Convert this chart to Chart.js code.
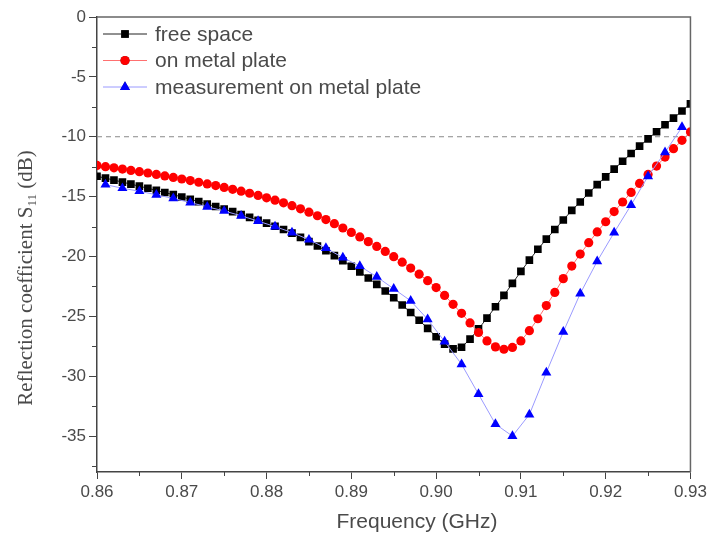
<!DOCTYPE html>
<html>
<head>
<meta charset="utf-8">
<script src="https://cdn.jsdelivr.net/npm/chart.js@4.4.1/dist/chart.umd.min.js"></script>
<style>
  html, body { margin: 0; padding: 0; background: #fff; }
  #wrap { width: 710px; height: 545px; }
</style>
</head>
<body>
<div id="wrap"><canvas id="chart" width="710" height="545"></canvas></div>
<script>
/* ---- Daten ---- */
const FREQ_DENSE = [
  0.860, 0.861, 0.862, 0.863, 0.864, 0.865, 0.866, 0.867, 0.868, 0.869,
  0.870, 0.871, 0.872, 0.873, 0.874, 0.875, 0.876, 0.877, 0.878, 0.879,
  0.880, 0.881, 0.882, 0.883, 0.884, 0.885, 0.886, 0.887, 0.888, 0.889,
  0.890, 0.891, 0.892, 0.893, 0.894, 0.895, 0.896, 0.897, 0.898, 0.899,
  0.900, 0.901, 0.902, 0.903, 0.904, 0.905, 0.906, 0.907, 0.908, 0.909,
  0.910, 0.911, 0.912, 0.913, 0.914, 0.915, 0.916, 0.917, 0.918, 0.919,
  0.920, 0.921, 0.922, 0.923, 0.924, 0.925, 0.926, 0.927, 0.928, 0.929,
  0.930
];
const FREE_SPACE = [
  -13.30, -13.46, -13.62, -13.79, -13.96, -14.13, -14.30, -14.48, -14.66, -14.84,
  -15.03, -15.22, -15.42, -15.62, -15.83, -16.04, -16.26, -16.49, -16.73, -16.97,
  -17.22, -17.48, -17.75, -18.05, -18.40, -18.76, -19.13, -19.52, -19.93, -20.36,
  -20.82, -21.30, -21.80, -22.33, -22.88, -23.45, -24.05, -24.68, -25.33, -26.00,
  -26.70, -27.32, -27.72, -27.58, -26.90, -26.05, -25.15, -24.20, -23.25, -22.25,
  -21.25, -20.30, -19.40, -18.55, -17.75, -16.95, -16.15, -15.45, -14.70, -14.00,
  -13.35, -12.70, -12.05, -11.40, -10.78, -10.18, -9.58, -9.00, -8.45, -7.85,
  -7.25
];
const ON_METAL = [
  -12.40, -12.50, -12.60, -12.70, -12.81, -12.92, -13.03, -13.15, -13.27, -13.40,
  -13.53, -13.66, -13.80, -13.94, -14.08, -14.23, -14.39, -14.55, -14.72, -14.90,
  -15.10, -15.30, -15.52, -15.76, -16.02, -16.30, -16.60, -16.92, -17.26, -17.62,
  -17.99, -18.37, -18.76, -19.16, -19.58, -20.02, -20.48, -20.97, -21.48, -22.02,
  -22.60, -23.25, -24.00, -24.75, -25.55, -26.35, -27.05, -27.55, -27.75, -27.60,
  -27.05, -26.20, -25.20, -24.10, -23.00, -21.85, -20.80, -19.80, -18.85, -17.95,
  -17.10, -16.25, -15.45, -14.65, -13.90, -13.15, -12.45, -11.70, -11.00, -10.30,
  -9.60
];
const FREQ_MEAS = [
  0.861, 0.863, 0.865, 0.867, 0.869, 0.871, 0.873, 0.875, 0.877, 0.879,
  0.881, 0.883, 0.885, 0.887, 0.889, 0.891, 0.893, 0.895, 0.897, 0.899,
  0.901, 0.903, 0.905, 0.907, 0.909, 0.911, 0.913, 0.915, 0.917, 0.919,
  0.921, 0.923, 0.925, 0.927, 0.929
];
const MEASURED = [
  -14.00, -14.30, -14.55, -14.85, -15.15, -15.50, -15.85, -16.20, -16.60, -17.05,
  -17.50, -18.00, -18.60, -19.30, -20.10, -20.80, -21.70, -22.70, -23.70, -25.25,
  -27.10, -29.00, -31.50, -34.00, -35.00, -33.20, -29.70, -26.30, -23.10, -20.40,
  -18.00, -15.70, -13.30, -11.30, -9.20
];
const LABELS = ['free space', 'on metal plate', 'measurement on metal plate'];
const X_TICKS = [0.86, 0.87, 0.88, 0.89, 0.90, 0.91, 0.92, 0.93];
const X_MINOR = [0.865, 0.875, 0.885, 0.895, 0.905, 0.915, 0.925];
const Y_TICKS = [0, -5, -10, -15, -20, -25, -30, -35];
const Y_MINOR = [-2.5, -7.5, -12.5, -17.5, -22.5, -27.5, -32.5, -37.5];
const THRESHOLD = -10;

const toXY = (xs, ys) => xs.map((x, i) => ({ x: x, y: ys[i] }));

const AXIS = '#444';
const TEXT = '#4a4a4a';

/* ---- Rahmen, Nebenstriche, -10 dB Linie, Achsentitel, Legende ---- */
const decorPlugin = {
  id: 'decor',
  beforeDatasetsDraw(chart) {
    const { ctx, chartArea: a, scales: { y } } = chart;
    const py = y.getPixelForValue(THRESHOLD);
    ctx.save();
    ctx.strokeStyle = '#8a8a8a';
    ctx.lineWidth = 1;
    ctx.setLineDash([5, 4]);
    ctx.beginPath();
    ctx.moveTo(a.left, py);
    ctx.lineTo(a.right, py);
    ctx.stroke();
    ctx.restore();
  },
  afterDraw(chart) {
    const { ctx, chartArea: a, scales: { x, y } } = chart;
    ctx.save();
    // Rahmen oben/rechts
    ctx.strokeStyle = '#666';
    ctx.lineWidth = 1.5;
    ctx.beginPath();
    ctx.moveTo(a.left, a.top);
    ctx.lineTo(a.right, a.top);
    ctx.lineTo(a.right, a.bottom);
    ctx.stroke();

    // Nebenstriche
    ctx.strokeStyle = AXIS;
    ctx.lineWidth = 1;
    ctx.beginPath();
    X_MINOR.forEach(v => {
      const px = Math.round(x.getPixelForValue(v)) + 0.5;
      ctx.moveTo(px, a.bottom);
      ctx.lineTo(px, a.bottom + 4);
    });
    Y_MINOR.forEach(v => {
      const py = Math.round(y.getPixelForValue(v)) + 0.5;
      if (py > a.bottom + 1) return;
      ctx.moveTo(a.left, py);
      ctx.lineTo(a.left - 5, py);
    });
    ctx.stroke();

    // x-Titel
    ctx.fillStyle = TEXT;
    ctx.font = '21px "Liberation Sans", Arial, sans-serif';
    ctx.textAlign = 'center';
    ctx.textBaseline = 'middle';
    ctx.fillText('Frequency (GHz)', 417, 522);

    // y-Titel mit Index
    ctx.translate(25, 278);
    ctx.rotate(-Math.PI / 2);
    const main = 'Reflection coefficient S';
    const sub = '11';
    const tail = ' (dB)';
    const fMain = '21px "Liberation Serif", "Times New Roman", serif';
    const fSub = '13px "Liberation Serif", "Times New Roman", serif';
    ctx.font = fMain;
    const wMain = ctx.measureText(main).width;
    const wTail = ctx.measureText(tail).width;
    ctx.font = fSub;
    const wSub = ctx.measureText(sub).width;
    let cx = -(wMain + wSub + wTail) / 2;
    ctx.textAlign = 'left';
    ctx.textBaseline = 'alphabetic';
    ctx.font = fMain;
    ctx.fillText(main, cx, 7);
    cx += wMain;
    ctx.font = fSub;
    ctx.fillText(sub, cx, 11);
    cx += wSub;
    ctx.font = fMain;
    ctx.fillText(tail, cx, 7);
    ctx.setTransform(1, 0, 0, 1, 0, 0);

    // Legende
    const rows = [34, 60.5, 87];
    chart.data.datasets.forEach((ds, i) => {
      const ry = rows[i];
      ctx.strokeStyle = ds.borderColor;
      ctx.lineWidth = 1;
      ctx.beginPath();
      ctx.moveTo(103, ry);
      ctx.lineTo(147, ry);
      ctx.stroke();
      Chart.helpers.drawPoint(ctx, {
        pointStyle: ds.pointStyle,
        radius: ds.pointRadius,
        borderWidth: 0
      }, 125, ry);
      ctx.fillStyle = ds.pointBackgroundColor;
      ctx.fill();
      ctx.fillStyle = TEXT;
      ctx.font = '21px "Liberation Sans", Arial, sans-serif';
      ctx.textAlign = 'left';
      ctx.textBaseline = 'middle';
      ctx.fillText(ds.label, 155, ry + 1);
    });
    ctx.restore();
  }
};

const chart = new Chart(document.getElementById('chart'), {
  type: 'line',
  data: {
    datasets: [
      {
        label: LABELS[0],
        data: toXY(FREQ_DENSE, FREE_SPACE),
        borderColor: '#222',
        borderWidth: 1,
        pointStyle: 'rect',
        pointRadius: 5.4,
        pointBackgroundColor: '#000',
        pointBorderWidth: 0,
        order: 3
      },
      {
        label: LABELS[1],
        data: toXY(FREQ_DENSE, ON_METAL),
        borderColor: '#ff7070',
        borderWidth: 1,
        pointStyle: 'circle',
        pointRadius: 4.6,
        pointBackgroundColor: '#ff0000',
        pointBorderWidth: 0,
        order: 2
      },
      {
        label: LABELS[2],
        data: toXY(FREQ_MEAS, MEASURED),
        borderColor: '#9a9aff',
        borderWidth: 1,
        pointStyle: 'triangle',
        pointRadius: 5.8,
        pointBackgroundColor: '#0000ff',
        pointBorderWidth: 0,
        order: 1
      }
    ]
  },
  options: {
    responsive: false,
    animation: false,
    layout: { padding: { top: 17, right: 19, left: 0, bottom: 0 } },
    plugins: { legend: { display: false }, tooltip: { enabled: false } },
    elements: { line: { tension: 0 } },
    scales: {
      x: {
        type: 'linear',
        min: 0.86, max: 0.93,
        afterBuildTicks: s => { s.ticks = X_TICKS.map(v => ({ value: v })); },
        afterFit: s => { s.height = 73; },
        ticks: {
          color: TEXT,
          padding: 3,
          maxRotation: 0,
          font: { family: '"Liberation Sans", Arial, sans-serif', size: 17 },
          callback: v => Number(v).toFixed(2)
        },
        grid: { drawOnChartArea: false, tickLength: 7, color: AXIS, tickWidth: 1 },
        border: { color: AXIS, width: 1.5 }
      },
      y: {
        min: -38, max: 0,
        afterBuildTicks: s => { s.ticks = Y_TICKS.map(v => ({ value: v })); },
        afterFit: s => { s.width = 97; },
        ticks: {
          color: TEXT,
          padding: 3,
          font: { family: '"Liberation Sans", Arial, sans-serif', size: 17 },
          callback: v => String(v)
        },
        grid: { drawOnChartArea: false, tickLength: 8, color: AXIS, tickWidth: 1 },
        border: { color: AXIS, width: 1.5 }
      }
    }
  },
  plugins: [decorPlugin]
});
</script>
</body>
</html>
